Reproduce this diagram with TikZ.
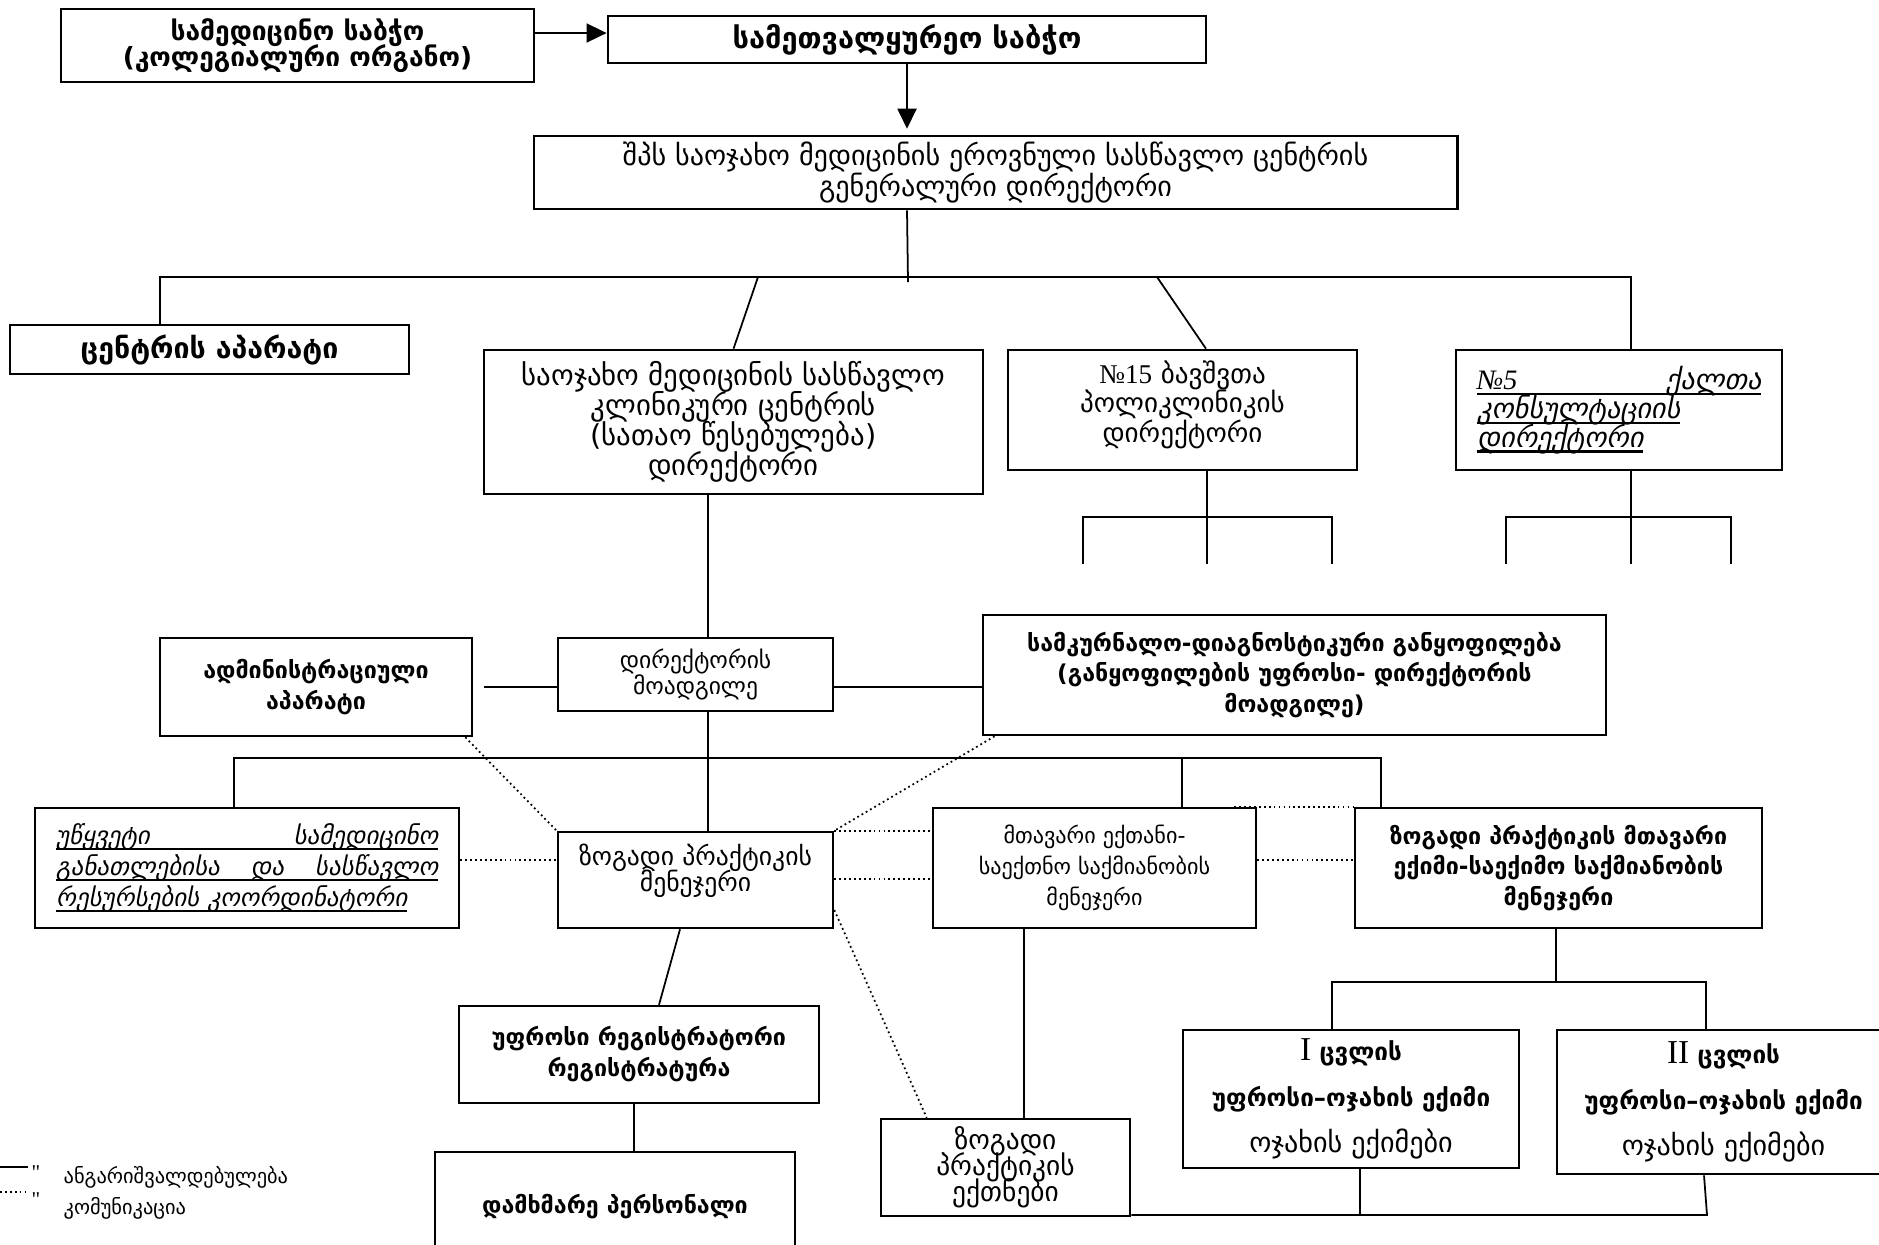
\documentclass[tikz,border=0pt]{standalone}
\usepackage{fontspec}
\usetikzlibrary{arrows.meta,calc}
\newfontfamily\geo{DejaVu Sans}
\newfontfamily\geoit{DejaVu Sans}[FakeSlant=0.2]
\newfontfamily\tms{Liberation Serif}
\newcommand\gul[1]{\leavevmode\setbox0\hbox{#1}\rlap{\smash{\rule[-1.6pt]{\wd0}{0.7pt}}}\box0}
\newcommand\nols{\lineskiplimit-20pt\relax}
\begin{document}
\begin{tikzpicture}[x=0.01cm,y=-0.01cm,
  box/.style={draw,line width=0.7pt,inner sep=0pt,align=center,fill=white},
  capf/.style={font=\geo\fontsize{8}{8.6}\selectfont},
  capbf/.style={font=\geo\bfseries\fontsize{8.1}{8.8}\selectfont},
  mkbf/.style={font=\geo\bfseries\fontsize{6.6}{8.8}\selectfont},
  mkf/.style={font=\geo\fontsize{6.3}{8.8}\selectfont},
  con/.style={line width=0.5pt},
  dot/.style={line width=0.5pt,dash pattern=on 0.5pt off 0.9pt},
  arr/.style={-{Triangle[length=0.2cm,width=0.19cm]}}]
\useasboundingbox (0,0) rectangle (1879,1244);
\clip (0,0) rectangle (1879,1244);

% ---------- boxes ----------
\node[box,font=\geo\bfseries\fontsize{7.5}{7.5}\selectfont\nols,minimum width=4.73cm,minimum height=0.73cm] (A) at (297.5,45.5) {სამედიცინო საბჭო\\(კოლეგიალური ორგანო)};
\node[box,font=\geo\bfseries\fontsize{8.25}{8.8}\selectfont,minimum width=5.98cm,minimum height=0.47cm] (B) at (907,39.5) {სამეთვალყურეო საბჭო};
\node[box,capf,minimum width=9.23cm,minimum height=0.73cm] (C) at (995.5,172.5) {შპს საოჯახო მედიცინის ეროვნული სასწავლო ცენტრის\\გენერალური დირექტორი};
\node[box,capbf,minimum width=3.99cm,minimum height=0.49cm] (D) at (209.5,349.5) {ცენტრის აპარატი};
\node[box,font=\geo\fontsize{8.2}{8.5}\selectfont\nols,minimum width=4.99cm,minimum height=1.44cm] (E) at (733.5,422) {საოჯახო მედიცინის სასწავლო\\კლინიკური ცენტრის\\(სათაო წესებულება)\\დირექტორი};
\node[box,font=\geo\fontsize{7.7}{8.5}\selectfont\nols,minimum width=3.49cm,minimum height=1.20cm] (F) at (1182.5,410) {{\tms №15} ბავშვთა\\პოლიკლინიკის\\დირექტორი\\[-3.7pt]};
\node[box,font=\geoit\fontsize{8}{8.2}\selectfont\nols,align=left,text width=2.84cm,minimum width=3.26cm,minimum height=1.20cm] (G) at (1619,410) {\gul{\hbox to 2.84cm{{\tms\itshape №5}\hfill ქალთა}}\\\gul{კონსულტაციის}\\\gul{დირექტორი}\par\vspace*{3.4pt}};
\node[box,mkbf,minimum width=3.12cm,minimum height=0.98cm] (I) at (316,687) {ადმინისტრაციული\\აპარატი};
\node[box,font=\geo\fontsize{6.7}{7.6}\selectfont\nols,minimum width=2.75cm,minimum height=0.73cm] (H) at (695.5,674.5) {დირექტორის\\მოადგილე};
\node[box,mkbf,minimum width=6.23cm,minimum height=1.20cm] (K) at (1294.5,675) {სამკურნალო-დიაგნოსტიკური განყოფილება\\(განყოფილების უფროსი- დირექტორის\\მოადგილე)};
\node[box,font=\geoit\fontsize{7.1}{8.8}\selectfont\nols,align=left,text width=3.82cm,minimum width=4.24cm,minimum height=1.20cm] (L) at (247,868) {\gul{\hbox to 3.82cm{უწყვეტი\hfill სამედიცინო}}\\\gul{\hbox to 3.82cm{განათლებისა\hfill და\hfill სასწავლო}}\\\gul{რესურსების კოორდინატორი}};
\node[box,font=\geo\fontsize{7.3}{7.3}\selectfont\nols,minimum width=2.75cm,minimum height=0.96cm] (J) at (695.5,880) {ზოგადი პრაქტიკის\\მენეჯერი\\[-0.5pt]};
\node[box,mkf,minimum width=3.23cm,minimum height=1.20cm] (M) at (1094.5,868) {მთავარი ექთანი-\\საექთნო საქმიანობის\\მენეჯერი};
\node[box,mkbf,minimum width=4.07cm,minimum height=1.20cm] (N) at (1558.5,868) {ზოგადი პრაქტიკის მთავარი\\ექიმი-საექიმო საქმიანობის\\მენეჯერი};
\node[box,mkbf,minimum width=3.60cm,minimum height=0.97cm] (P) at (639,1054.5) {უფროსი რეგისტრატორი\\რეგისტრატურა};
\node[box,mkbf,minimum width=3.60cm,minimum height=1.10cm] (Q) at (615,1207) {დამხმარე პერსონალი};
\node[box,font=\geo\fontsize{7.8}{7.4}\selectfont\nols,minimum width=2.49cm,minimum height=0.97cm] (O) at (1005.5,1167.5) {ზოგადი\\პრაქტიკის\\ექთნები};
\node[box,font=\geo\bfseries\fontsize{6.9}{13}\selectfont,minimum width=3.36cm,minimum height=1.38cm] (R) at (1351,1099) {{\tms\mdseries\fontsize{9.5}{13}\selectfont I} ცვლის\\უფროსი–ოჯახის ექიმი\\{\mdseries\fontsize{8}{13}\selectfont ოჯახის ექიმები}};
\node[box,font=\geo\bfseries\fontsize{6.9}{13}\selectfont,minimum width=3.33cm,minimum height=1.44cm] (S) at (1723.5,1102) {{\tms\mdseries\fontsize{9.5}{13}\selectfont II} ცვლის\\უფროსი–ოჯახის ექიმი\\{\mdseries\fontsize{8}{13}\selectfont ოჯახის ექიმები}};

% ---------- top connectors ----------
\draw[con,arr] (A.east |- 0,33) -- (B.west |- 0,33);
\draw[con,arr,shorten >=0.06cm] (B.south) -- (B.south |- C.north);
\coordinate (b1L) at (160,277);
\coordinate (b1R) at (1631,277);
\coordinate (b1C) at (908,282);
\draw[con] (B.south |- C.south) -- (b1C);
\draw[con] (D.north -| b1L) -- (b1L) -- (b1R) -- (G.north -| b1R);
\coordinate (s1) at (758,277);
\coordinate (s2) at (1157,277);
\draw[con] (s1) -- (E.north);
\draw[con] (s2) -- (F.north -| 1206,0);

% ---------- F and G stubs ----------
\coordinate (f1) at (1083,564); \coordinate (f2) at (1207,564); \coordinate (f3) at (1332,564);
\draw[con] (F.south -| f2) -- (f2);
\draw[con] (f1) |- (f3 |- 0,517) -- (f3);
\coordinate (g1) at (1506,564); \coordinate (g2) at (1631,564); \coordinate (g3) at (1731,564);
\draw[con] (G.south -| g2) -- (g2);
\draw[con] (g1) |- (g3 |- 0,517) -- (g3);

% ---------- middle ----------
\draw[con] (E.south -| 708,0) -- (H.north -| 708,0);
\draw[con] (H.south -| 708,0) -- (J.north -| 708,0);
\draw[con,shorten <=0.11cm] (I.east) -- (H.west |- I.east);
\draw[con] (H.east |- I.east) -- (K.west |- I.east);
\coordinate (b2L) at (234,758);
\coordinate (b2M) at (1182,758);
\coordinate (b2R) at (1381,758);
\draw[con] (L.north -| b2L) -- (b2L) -- (b2R) -- (N.north -| b2R);
\draw[con] (b2M) -- (M.north -| b2M);

% ---------- dotted (communication) ----------
\draw[dot] ($(I.south east)+(-8,0)$) -- (J.north west);
\draw[dot] ($(K.south west)+(13,0)$) -- (J.north east);
\draw[dot] (L.east |- 0,860) -- (J.west |- 0,860);
\draw[dot] (J.north east) -- (M.west |- J.north east);
\draw[dot] (J.east |- 0,879) -- (M.west |- 0,879);
\draw[dot] ($(M.north east)+(-23,0)$) -- (N.north west);
\draw[dot] (M.east |- 0,860) -- (N.west |- 0,860);
\draw[dot] (J.east |- 0,910) -- ($(O.north west)+(47,0)$);

% ---------- lower ----------
\draw[con] (J.south -| 680,0) -- (P.north -| 659,0);
\draw[con] (P.south -| 634,0) -- (Q.north -| 634,0);
\draw[con] (M.south -| 1024,0) -- (O.north -| 1024,0);
\coordinate (nb) at (1556,982); \coordinate (nl) at (1332,982); \coordinate (nr) at (1706,982);
\draw[con] (N.south -| nb) -- (nb);
\draw[con] (R.north -| nl) -- (nl) -- (nr) -- (S.north -| nr);
\coordinate (bm) at (1360,1215); \coordinate (br) at (1707,1215);
\draw[con] (R.south -| bm) -- (bm);
\draw[con] (S.south -| 1704,0) -- (br) -- (O.south east |- br);

% ---------- legend ----------
\coordinate (ls1) at (0,1167); \coordinate (ls2) at (28,1167);
\coordinate (ld1) at (0,1192); \coordinate (ld2) at (27,1192);
\draw[line width=0.8pt] (ls1) -- (ls2);
\draw[dot] (ld1) -- (ld2);
\node[font=\tms\fontsize{6}{6}\selectfont,inner sep=0pt] (q1) at (36,1173) {"};
\node[font=\tms\fontsize{6}{6}\selectfont,inner sep=0pt] (q2) at (36,1200) {"};
\node[anchor=west,font=\geo\fontsize{5.8}{6}\selectfont,inner sep=0pt] (lg1) at (63,1177) {ანგარიშვალდებულება};
\node[anchor=west,font=\geo\fontsize{5.8}{6}\selectfont,inner sep=0pt] (lg2) at (63,1208) {კომუნიკაცია};
\end{tikzpicture}
\end{document}
